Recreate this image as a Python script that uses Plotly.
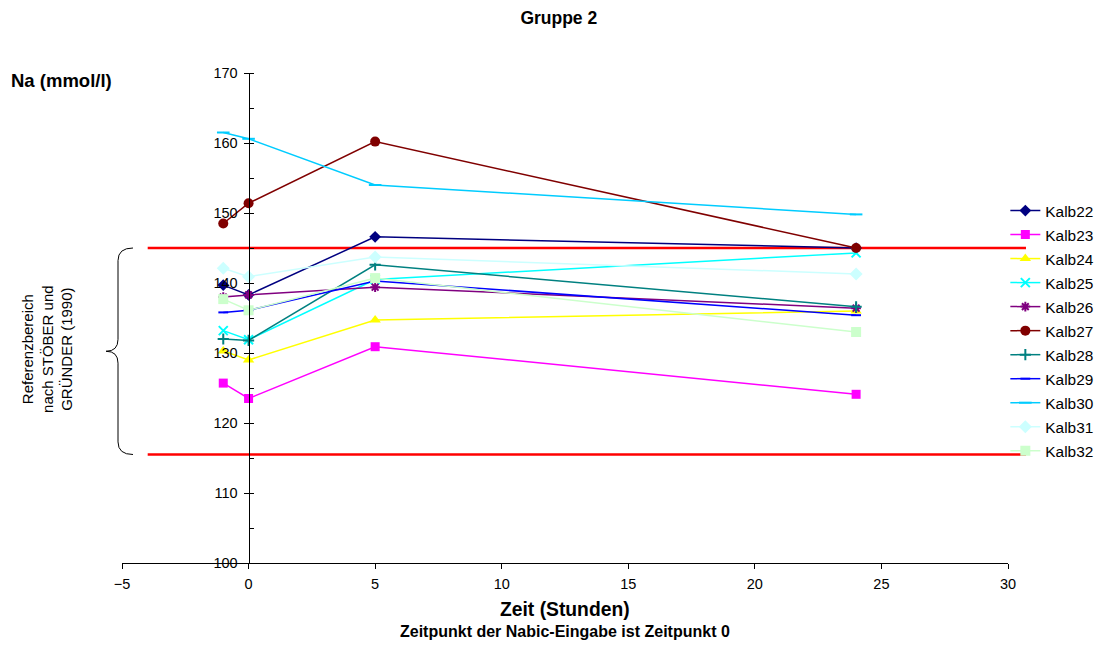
import plotly.graph_objects as go

# Data
hours = [-1, 0, 5, 24]
names = ["Kalb22", "Kalb23", "Kalb24", "Kalb25", "Kalb26", "Kalb27",
         "Kalb28", "Kalb29", "Kalb30", "Kalb31", "Kalb32"]
kalb22 = [139.7, 138.3, 146.6, 145.0]
kalb23 = [125.7, 123.5, 130.9, 124.1]
kalb24 = [130.3, 129.0, 134.7, 136.0]
kalb25 = [133.2, 131.9, 140.5, 144.3]
kalb26 = [138.0, 138.3, 139.4, 136.4]
kalb27 = [148.5, 151.4, 160.2, 145.0]
kalb28 = [132.0, 131.8, 142.6, 136.6]
kalb29 = [135.8, 136.1, 140.3, 135.4]
kalb30 = [161.5, 160.6, 154.0, 149.8]
kalb31 = [142.1, 140.9, 143.7, 141.3]
kalb32 = [137.7, 136.1, 140.7, 133.0]
series = [kalb22, kalb23, kalb24, kalb25, kalb26, kalb27,
          kalb28, kalb29, kalb30, kalb31, kalb32]
ref_low, ref_high = 115.5, 145.0

colors = ["#000080", "#FF00FF", "#FFFF00", "#00FFFF", "#800080", "#800000",
          "#008080", "#0000FF", "#00CCFF", "#CCFFFF", "#CCFFCC"]
symbols = ["diamond", "square", "triangle-up", "x-thin", "asterisk", "circle",
           "cross-thin", "line-ew", "line-ew", "diamond", "square"]
sizes = [9, 9, 10, 9, 8, 10, 8, 7, 9, 10, 10]

FONT = "Arial, Liberation Sans, sans-serif"

fig = go.Figure()
for i, (nm, vals) in enumerate(zip(names, series)):
    fig.add_trace(go.Scatter(
        x=hours, y=vals, name=nm, mode="lines+markers",
        legendgroup=nm,
        line=dict(color=colors[i], width=1.5),
        marker=dict(symbol=symbols[i], size=sizes[i], color=colors[i],
                    line=dict(color=colors[i], width=2 if symbols[i] in ("x-thin", "asterisk", "cross-thin", "line-ew") else 0)),
    ))

# reference lines
for yv in (ref_low, ref_high):
    fig.add_shape(type="line", xref="paper", yref="y", x0=0.029, x1=1.0203,
                  y0=yv, y1=yv, line=dict(color="#FF0000", width=2.5), layer="below")

# brace
xt, xs, xm = 0.0124, -0.0045, -0.0180
ym = 130.25
path = (f"M {xt},{ref_high} Q {xs},{ref_high} {xs},{ref_high-1.8} "
        f"L {xs},{ym+1.7} Q {xs},{ym} {xm},{ym} "
        f"Q {xs},{ym} {xs},{ym-1.7} "
        f"L {xs},{ref_low+1.8} Q {xs},{ref_low} {xt},{ref_low}")
fig.add_shape(type="path", xref="paper", yref="y", path=path,
              line=dict(color="black", width=1))

fig.add_annotation(xref="paper", yref="y", x=-0.0845, y=130.6,
                   text="Referenzbereich<br>nach STÖBER und<br>GRÜNDER (1990)",
                   textangle=-90, showarrow=False, xanchor="center", yanchor="middle",
                   font=dict(family=FONT, size=15, color="black"))
fig.add_annotation(xref="paper", yref="paper", x=-0.128, y=0.9857,
                   text="<b>Na (mmol/l)</b>", showarrow=False, xanchor="left",
                   yanchor="middle", font=dict(family=FONT, size=18.5, color="black"))
fig.add_annotation(xref="paper", yref="paper", x=0.5, y=-0.0955,
                   text="<b>Zeit (Stunden)</b>", showarrow=False, xanchor="center",
                   yanchor="middle", font=dict(family=FONT, size=19.3, color="black"))
fig.add_annotation(xref="paper", yref="paper", x=0.5, y=-0.1408,
                   text="<b>Zeitpunkt der Nabic-Eingabe ist Zeitpunkt 0</b>",
                   showarrow=False, xanchor="center", yanchor="middle",
                   font=dict(family=FONT, size=16, color="black"))

fig.update_layout(
    width=1096, height=640,
    margin=dict(l=114, r=96, t=65, b=85, autoexpand=False),
    paper_bgcolor="white", plot_bgcolor="white",
    font=dict(family=FONT, size=14.5, color="black"),
    title=dict(text="<b>Gruppe 2</b>", x=0.493, xref="paper", y=1 - 10/640, yanchor="middle",
               font=dict(family=FONT, size=17.5, color="black")),
    xaxis=dict(range=[-5, 30], dtick=5, tick0=0, showgrid=False, zeroline=False,
               showline=True, linecolor="black", linewidth=1,
               ticks="outside", ticklen=5, tickcolor="black", ticklabelstandoff=3,
               tickfont=dict(family=FONT, size=14.5, color="black")),
    yaxis=dict(range=[100, 170], dtick=10, showgrid=False, zeroline=False,
               showline=True, linecolor="black", linewidth=1,
               anchor="free", position=5/35,
               ticks="outside", ticklen=5, tickcolor="black", ticklabelstandoff=3,
               minor=dict(ticks="inside", ticklen=4, dtick=5, tickcolor="black", showgrid=False),
               tickfont=dict(family=FONT, size=14.5, color="black")),
    legend=dict(x=0.997, y=0.753, xanchor="left", yanchor="top",
                font=dict(family=FONT, size=15.4, color="black"),
                tracegroupgap=1, bgcolor="rgba(0,0,0,0)", itemwidth=30),
    showlegend=True,
)

fig.write_html("out.html")
